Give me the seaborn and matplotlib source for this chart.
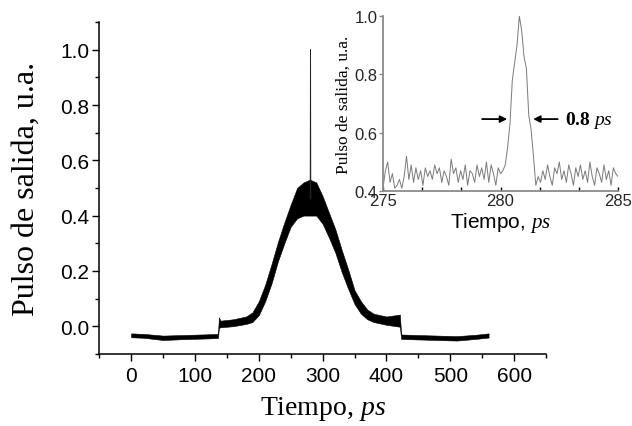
import numpy as np
import pandas as pd
import matplotlib
matplotlib.use("Agg")
import matplotlib.pyplot as plt
from matplotlib.ticker import MultipleLocator, FixedLocator
import seaborn as sns

# ---------------- data ----------------
# main trace: noisy band, given as lower / upper envelope
t_env = [0, 20, 50, 80, 110, 136, 137.5, 140, 160, 180, 190, 200, 210, 220, 230, 240,
         250, 260, 270, 280, 290, 300, 310, 320, 330, 340, 350, 360, 370, 380, 400,
         421, 423, 450, 480, 510, 540, 560]
v_lo = [-0.040, -0.042, -0.050, -0.047, -0.045, -0.043, -0.006, -0.004, 0.000, 0.008,
        0.015, 0.040, 0.090, 0.155, 0.235, 0.300, 0.360, 0.390, 0.400, 0.400, 0.400,
        0.370, 0.320, 0.265, 0.195, 0.135, 0.080, 0.045, 0.025, 0.015, 0.005, -0.002,
        -0.046, -0.048, -0.050, -0.052, -0.046, -0.041]
v_hi = [-0.026, -0.028, -0.034, -0.032, -0.030, -0.028, 0.032, 0.020, 0.025, 0.035,
        0.050, 0.090, 0.150, 0.225, 0.305, 0.375, 0.440, 0.500, 0.520, 0.530, 0.520,
        0.470, 0.410, 0.350, 0.275, 0.205, 0.130, 0.090, 0.060, 0.045, 0.035, 0.042,
        -0.030, -0.032, -0.034, -0.036, -0.031, -0.026]
spike_t = [280.6, 281.0, 281.4]
spike_v = [0.46, 1.00, 0.46]

# inset: zoom on the spike, 275-285 ps
inset_t = [round(275 + 0.1 * i, 1) for i in range(101)]
inset_v = [0.41, 0.47, 0.50, 0.43, 0.46, 0.41, 0.42, 0.44, 0.41, 0.45,
           0.52, 0.44, 0.49, 0.43, 0.48, 0.44, 0.47, 0.42, 0.48, 0.45,
           0.47, 0.44, 0.49, 0.46, 0.48, 0.43, 0.47, 0.45, 0.42, 0.51,
           0.46, 0.48, 0.43, 0.47, 0.44, 0.49, 0.42, 0.47, 0.46, 0.43,
           0.49, 0.45, 0.48, 0.44, 0.50, 0.43, 0.49, 0.46, 0.42, 0.48,
           0.46, 0.47, 0.49, 0.55, 0.63, 0.78, 0.84, 0.90, 1.00, 0.95,
           0.86, 0.82, 0.66, 0.61, 0.52, 0.42, 0.45, 0.43, 0.47, 0.44,
           0.49, 0.45, 0.42, 0.48, 0.46, 0.50, 0.44, 0.47, 0.43, 0.49,
           0.46, 0.42, 0.48, 0.45, 0.49, 0.44, 0.47, 0.43, 0.50, 0.45,
           0.42, 0.48, 0.46, 0.43, 0.49, 0.44, 0.47, 0.42, 0.48, 0.46,
           0.45]

xticks_main = [0, 100, 200, 300, 400, 500, 600]
yticks_main = [0.0, 0.2, 0.4, 0.6, 0.8, 1.0]
xticks_inset = [275, 280, 285]
yticks_inset = [0.4, 0.6, 0.8, 1.0]
fwhm_label = r"$\mathbf{0.8}\ \mathit{ps}$"

# ---------------- style ----------------
sns.set_theme(style="white")
plt.rcParams["font.family"] = ["Liberation Sans", "DejaVu Sans"]
plt.rcParams["mathtext.fontset"] = "custom"
plt.rcParams["mathtext.rm"] = "Liberation Serif"
plt.rcParams["mathtext.it"] = "Liberation Serif:italic"
plt.rcParams["mathtext.bf"] = "Liberation Serif:bold"

fig = plt.figure(figsize=(6.32, 4.27), dpi=100)
ax = fig.add_axes([0.157, 0.169, 0.707, 0.777])

ax.fill_between(t_env, v_lo, v_hi, color="black", linewidth=0.4, edgecolor="black")
sns.lineplot(x=spike_t, y=spike_v, ax=ax, color="#222222", linewidth=0.7, estimator=None)

ax.set_xlim(-50, 650)
ax.set_ylim(-0.1, 1.1)
ax.set_xticks(xticks_main)
ax.set_yticks(yticks_main)
ax.set_xticklabels([str(v) for v in xticks_main])
ax.set_yticklabels([f"{v:.1f}" for v in yticks_main])
ax.xaxis.set_minor_locator(MultipleLocator(50))
ax.yaxis.set_minor_locator(MultipleLocator(0.1))
for s in ["top", "right"]:
    ax.spines[s].set_visible(False)
for s in ["left", "bottom"]:
    ax.spines[s].set_color("black")
    ax.spines[s].set_linewidth(1.1)
ax.tick_params(which="major", direction="out", length=5, width=1.0, color="black",
               labelsize=15, labelcolor="black")
ax.tick_params(axis="x", which="major", pad=4)
ax.tick_params(axis="y", which="major", pad=2)
ax.tick_params(which="minor", direction="out", length=3, width=1.0, color="black")
ax.tick_params(which="both", bottom=True, left=True)
ax.set_xlabel(r"Tiempo, $\mathit{ps}$", family="Liberation Serif", fontsize=20,
              labelpad=6, color="black")
ax.set_ylabel("Pulso de salida, u.a.", family="Liberation Serif", fontsize=23,
              labelpad=14, color="black")

# ---------------- inset ----------------
gray = "#8a8a8a"
axi = fig.add_axes([0.606, 0.550, 0.372, 0.410])
axi.patch.set_alpha(0)
sns.lineplot(x=inset_t, y=inset_v, ax=axi, color="#7a7a7a", linewidth=0.7, estimator=None)
axi.set_xlim(275, 285)
axi.set_ylim(0.4, 1.0)
axi.set_xticks(xticks_inset)
axi.set_yticks(yticks_inset)
axi.set_xticklabels([str(v) for v in xticks_inset])
axi.set_yticklabels([f"{v:.1f}" for v in yticks_inset])
axi.xaxis.set_minor_locator(FixedLocator([276.667, 278.333, 281.667, 283.333]))
for s in ["top", "right"]:
    axi.spines[s].set_visible(False)
for s in ["left", "bottom"]:
    axi.spines[s].set_color(gray)
    axi.spines[s].set_linewidth(1.3)
axi.tick_params(axis="x", which="both", direction="in", length=3, width=1.0, color="black",
                labelsize=12, pad=1, bottom=True)
axi.tick_params(axis="y", which="both", direction="out", length=3, width=1.0, color=gray,
                labelsize=12, pad=1, left=True)
axi.set_xlabel(r"Tiempo, $\mathit{ps}$", family="Liberation Sans", fontsize=15,
               labelpad=2, color="black")
axi.set_ylabel("Pulso de salida, u.a.", family="Liberation Serif", fontsize=12.5,
               labelpad=2, color="black")

axi.annotate("", xy=(280.40, 0.647), xytext=(279.1, 0.647),
             arrowprops=dict(arrowstyle="-|>", color="black", lw=1.3, mutation_scale=10))
axi.annotate("", xy=(281.27, 0.647), xytext=(282.55, 0.647),
             arrowprops=dict(arrowstyle="-|>", color="black", lw=1.3, mutation_scale=10))
axi.text(282.75, 0.647, fwhm_label, fontsize=14, va="center", ha="left", color="black")

fig.savefig("out.png", dpi=100)
